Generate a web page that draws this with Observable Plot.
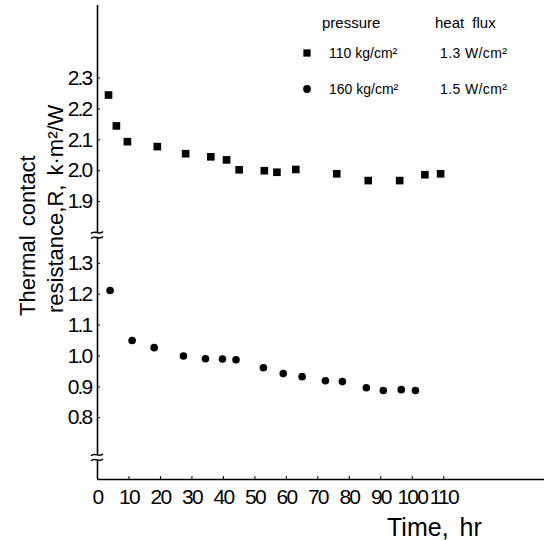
<!DOCTYPE html>
<html><head><meta charset="utf-8">
<script src="https://cdn.jsdelivr.net/npm/d3@7"></script>
<script src="https://cdn.jsdelivr.net/npm/@observablehq/plot@0.6"></script>
<style>
body{margin:0;background:#fff}
#chart{position:relative;width:544px;height:540px;overflow:hidden}
#chart g[aria-label="x-axis tick label"] text,
#chart g[aria-label="y-axis tick label"] text{letter-spacing:-1.8px}
</style>
</head><body><div id="chart"></div>
<script>
// Series: 110 kg/cm² (squares) and 160 kg/cm² (circles)
const timeSquares = [3.5, 6, 9.5, 19, 28, 36, 41, 45, 53, 57, 63, 76, 86, 96, 104, 109];
const resSquares  = [2.245, 2.145, 2.094, 2.078, 2.055, 2.045, 2.035, 2.003, 2.0, 1.995, 2.004, 1.99, 1.968, 1.968, 1.987, 1.99];
const timeCircles = [4, 11, 18, 27.3, 34.3, 39.7, 44, 52.7, 59, 65, 72.4, 77.8, 85.4, 90.8, 96.5, 101];
const resCircles  = [1.212, 1.05, 1.027, 1.0, 0.991, 0.99, 0.988, 0.962, 0.943, 0.933, 0.92, 0.917, 0.897, 0.888, 0.891, 0.888];

const xTicks = [0, 10, 20, 30, 40, 50, 60, 70, 80, 90, 100, 110];
const yTicks = [0.8, 0.9, 1.0, 1.1, 1.2, 1.3, 1.9, 2.0, 2.1, 2.2, 2.3];

const legendPressure = ["110 kg/cm²", "160 kg/cm²"];
const legendFlux = ["1.3 W/cm²", "1.5 W/cm²"];
const legendHeaders = ["pressure", "heat flux"];
const xLabel = "Time, hr";
const yLabelLines = ["Thermal contact", "resistance,R, k·m²/W"];

// broken y axis: values above the break are shifted down by GAP
const GAP = 0.4, SPLIT = 1.6;
const brk = v => v > SPLIT ? v - GAP : v;
const unbrk = t => t > 1.4 ? t + GAP : t;
const breakAt = [1.39, 0.67]; // transformed positions of the axis break symbols

const squares = timeSquares.map((t, i) => ({t, r: resSquares[i]}));
const circles = timeCircles.map((t, i) => ({t, r: resCircles[i]}));

const yDomain = [0.6, 2.135];
const xDomain = [0, 142];
const sans = "'Liberation Sans', Arial, sans-serif";

const chart = Plot.plot({
  width: 544, height: 540,
  marginLeft: 97, marginRight: 0, marginTop: 5, marginBottom: 61,
  x: {domain: xDomain},
  y: {domain: yDomain},
  style: {fontFamily: sans, fontSize: "21px", color: "#000", background: "#fff"},
  marks: [
    Plot.ruleX([0], {y1: yDomain[0], y2: yDomain[1], stroke: "#000", strokeWidth: 1.6}),
    Plot.ruleY([yDomain[0]], {x1: xDomain[0], x2: xDomain[1], stroke: "#000", strokeWidth: 1.6}),
    Plot.axisX(xTicks, {tickSize: -3, tickPadding: 13, label: null, fontSize: 21, tickFormat: d => String(d)}),
    Plot.axisY(yTicks.map(brk), {tickSize: -3, tickPadding: 9, label: null, fontSize: 21, tickFormat: t => unbrk(t).toFixed(1)}),
    Plot.dot(squares, {x: "t", y: d => brk(d.r), symbol: "square", r: 4.3, fill: "#000", stroke: null}),
    Plot.dot(circles, {x: "t", y: d => brk(d.r), symbol: "circle", r: 3.8, fill: "#000", stroke: null})
  ]
});
document.getElementById("chart").appendChild(chart);

const svg = d3.select(chart);
const xs = chart.scale("x"), ys = chart.scale("y");
const x0 = xs.apply(0);

// axis break symbols
for (const b of breakAt) {
  const y = ys.apply(b);
  const g = svg.append("g").attr("transform", `translate(${x0},${y})`);
  g.append("rect").attr("x", -2).attr("y", -2.5).attr("width", 4).attr("height", 5).attr("fill", "#fff");
  for (const dy of [-2.5, 2.5]) {
    g.append("path").attr("d", `M-6,${dy + 1} C-3,${dy - 3} 3,${dy + 3} 6,${dy - 1}`)
      .attr("fill", "none").attr("stroke", "#000").attr("stroke-width", 1.5);
  }
}

// axis titles
svg.append("text").attr("x", 387).attr("y", 536).attr("text-anchor", "start").attr("font-family", sans).attr("font-size", 25)
  .attr("word-spacing", 4).attr("fill", "#000").text(xLabel);
const ylx = [35, 63];
yLabelLines.forEach((s, i) => {
  svg.append("text").attr("transform", `translate(${ylx[i]},${i ? 313 : 316}) rotate(-90)`).attr("text-anchor", "start")
    .attr("font-family", sans).attr("font-size", 22).attr("word-spacing", 3).attr("fill", "#000").text(s);
});

// legend
const lg = svg.append("g").attr("font-family", sans).attr("fill", "#000").attr("text-anchor", "start");
lg.append("text").attr("x", 322).attr("y", 28).attr("font-size", 15).text(legendHeaders[0]);
lg.append("text").attr("x", 435).attr("y", 28).attr("font-size", 15).attr("word-spacing", 4).text(legendHeaders[1]);
const rowsY = [58, 94];
const syms = [d3.symbolSquare, d3.symbolCircle];
const rs = [4.1, 3.9];
rowsY.forEach((y, i) => {
  lg.append("path").attr("transform", `translate(307,${y - 5})`)
    .attr("d", d3.symbol(syms[i], rs[i] * rs[i] * Math.PI)());
  lg.append("text").attr("x", 329).attr("y", y).attr("font-size", 14).text(legendPressure[i]);
  lg.append("text").attr("x", 440).attr("y", y).attr("font-size", 14).attr("letter-spacing", 0.4).text(legendFlux[i]);
});
</script>
</body></html>
